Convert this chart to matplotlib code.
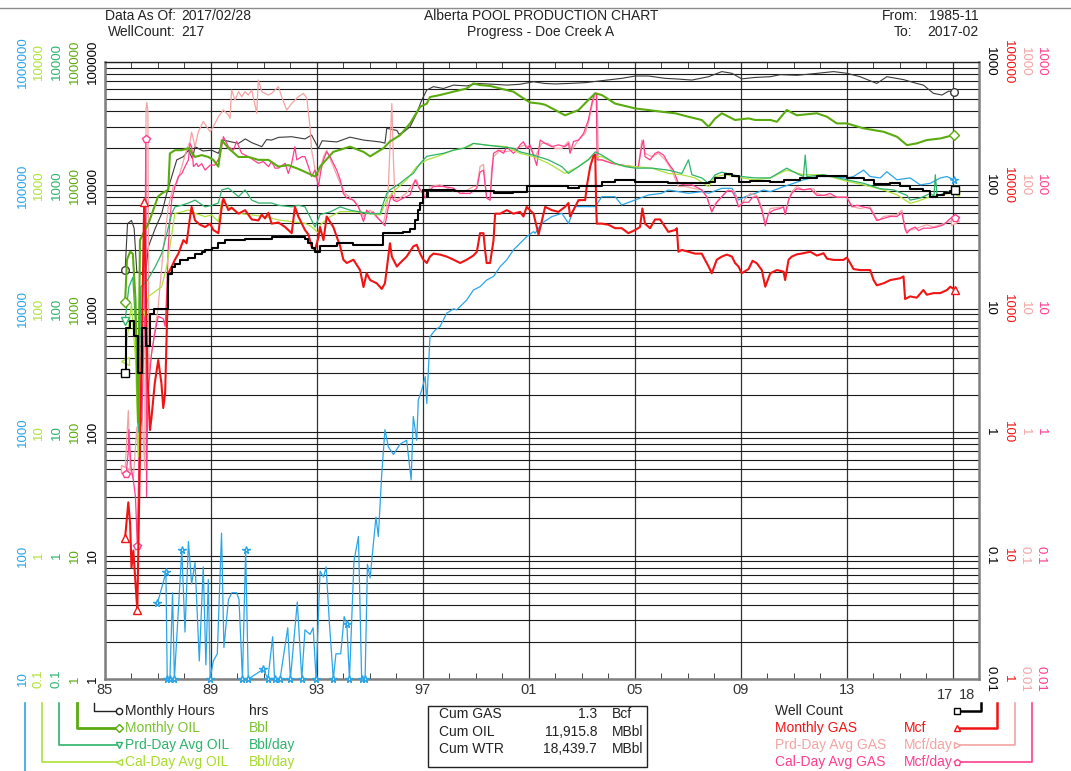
import matplotlib
matplotlib.use("Agg")
import matplotlib.pyplot as plt
import matplotlib.transforms as mtransforms
from matplotlib.patches import Rectangle
from matplotlib.ticker import FixedLocator, LogLocator, NullFormatter
import numpy as np

plt.rcParams['font.family'] = ['Liberation Sans', 'DejaVu Sans']

# === Series data: (year, value) in each series' own units ===
HOURS = [
    (1985.76, 2070), (1985.85, 4900), (1986.00, 5200), (1986.10, 4500), (1986.20, 2000),
    (1986.40, 1900), (1986.55, 2100), (1986.64, 3200), (1986.90, 4500), (1987.14, 5900),
    (1987.33, 8600), (1987.52, 11800), (1987.71, 16100), (1987.96, 17100), (1988.15, 19300),
    (1988.30, 16500), (1988.40, 20600), (1988.70, 19000), (1989.03, 19300), (1989.28, 18200),
    (1989.47, 23300), (1989.78, 22500), (1990.04, 21900), (1990.30, 23800), (1990.54, 22200),
    (1990.92, 20600), (1991.10, 23500), (1991.29, 23300), (1991.55, 24500), (1992.05, 24800),
    (1992.55, 23800), (1992.80, 25600), (1993.06, 20000), (1993.20, 23000), (1993.75, 22500),
    (1994.25, 24600), (1994.76, 23300), (1995.39, 22500), (1995.57, 22000), (1995.64, 29000),
    (1996.02, 27900), (1996.10, 26000), (1996.27, 27000), (1996.52, 29900), (1996.77, 38400),
    (1996.96, 49200), (1997.15, 59300), (1997.40, 63100), (1997.78, 61000), (1998.16, 65000),
    (1998.66, 64000), (1999.04, 67000), (1999.67, 66000), (2000.17, 65000), (2000.67, 66000),
    (2001.18, 69200), (2001.60, 67000), (2002.00, 66400), (2002.50, 67000), (2003.13, 68000),
    (2003.76, 70600), (2004.51, 73700), (2005.02, 77000), (2005.52, 77000), (2006.15, 73700),
    (2006.53, 73000), (2007.16, 71400), (2007.79, 76000), (2008.29, 83600), (2008.67, 81000),
    (2009.04, 73000), (2009.55, 75000), (2010.12, 76000), (2010.50, 79000), (2011.12, 78000),
    (2011.88, 80900), (2012.51, 83600), (2013.01, 81000), (2013.51, 76000), (2014.14, 67000),
    (2014.52, 76000), (2015.15, 72000), (2015.65, 67000), (2015.90, 65000), (2016.28, 55700),
    (2016.60, 54000), (2016.85, 58000), (2017.04, 57500),
]

OIL = [
    (1985.76, 1140), (1985.83, 2500), (1985.95, 2900), (1986.05, 2800), (1986.15, 1200),
    (1986.25, 120), (1986.32, 3600), (1986.64, 4900), (1987.00, 8100), (1987.14, 8600),
    (1987.39, 9200), (1987.45, 18200), (1987.65, 19300), (1987.90, 19300), (1988.15, 20000),
    (1988.40, 17000), (1988.65, 17600), (1988.90, 17000), (1989.09, 16100), (1989.28, 14200),
    (1989.41, 23300), (1989.66, 20000), (1990.04, 17000), (1990.42, 17000), (1990.79, 16100),
    (1991.17, 16100), (1991.55, 14200), (1991.92, 14600), (1992.30, 13600), (1992.68, 12500),
    (1992.93, 11800), (1993.06, 13300), (1993.12, 14200), (1993.62, 18700), (1994.25, 20600),
    (1994.76, 18700), (1995.01, 17200), (1995.51, 20000), (1995.76, 22700), (1996.14, 25500),
    (1996.52, 31800), (1996.90, 43400), (1997.15, 46000), (1997.27, 52000), (1997.65, 54000),
    (1998.16, 57500), (1998.66, 61000), (1998.91, 67000), (1999.16, 65000), (1999.54, 64000),
    (1999.92, 61000), (2000.42, 57500), (2000.80, 50700), (2001.05, 47000), (2001.43, 46000),
    (2001.62, 45000), (2002.00, 40800), (2002.37, 37000), (2002.88, 40800), (2003.25, 49200),
    (2003.51, 55700), (2003.76, 54000), (2004.26, 46000), (2004.76, 43400), (2005.02, 42000),
    (2005.52, 40800), (2006.02, 39500), (2006.53, 38400), (2007.03, 36000), (2007.53, 33900),
    (2007.79, 29900), (2008.04, 34900), (2008.29, 38400), (2008.79, 33900), (2009.30, 34900),
    (2009.55, 33900), (2010.12, 33900), (2010.37, 32800), (2010.74, 40800), (2011.12, 37000),
    (2011.88, 38400), (2012.26, 36000), (2012.63, 31800), (2013.01, 31800), (2013.64, 29000),
    (2014.40, 27200), (2014.90, 24800), (2015.28, 21200), (2015.65, 21900), (2016.03, 23300),
    (2016.54, 24000), (2017.04, 25600),
]

PRD_OIL = [
    (1985.76, 80), (1985.90, 150), (1986.05, 180), (1986.18, 60), (1986.27, 10), (1986.35, 150),
    (1986.60, 170), (1986.90, 220), (1987.14, 280), (1987.27, 360), (1987.52, 590), (1987.64, 670),
    (1987.90, 690), (1988.15, 720), (1988.40, 760), (1988.78, 670), (1989.03, 690), (1989.28, 720),
    (1989.41, 920), (1989.66, 950), (1989.90, 860), (1990.04, 810), (1990.29, 920), (1990.54, 760),
    (1990.80, 720), (1991.29, 720), (1991.55, 690), (1992.05, 670), (1992.30, 690), (1992.55, 670),
    (1992.68, 590), (1992.93, 460), (1993.12, 580), (1993.50, 610), (1993.88, 670), (1994.25, 630),
    (1994.63, 610), (1995.01, 590), (1995.39, 590), (1995.51, 720), (1995.64, 860), (1995.76, 920),
    (1996.14, 1040), (1996.39, 1150), (1996.64, 1250), (1996.90, 1510), (1997.15, 1720), (1997.40, 1760),
    (1997.78, 1820), (1998.16, 1930), (1998.54, 2000), (1998.91, 2190), (1999.41, 2120), (1999.92, 2060),
    (2000.42, 2000), (2000.67, 1870), (2001.18, 1760), (2001.74, 1610), (2002.25, 1420), (2002.50, 1250),
    (2002.88, 1420), (2003.25, 1610), (2003.51, 1870), (2003.76, 1760), (2004.26, 1510), (2004.64, 1420),
    (2005.02, 1380), (2005.65, 1380), (2006.27, 1330), (2006.78, 1250), (2007.03, 1610), (2007.16, 1220),
    (2007.53, 1150), (2007.79, 1040), (2008.04, 1220), (2008.29, 1280), (2008.67, 1220), (2009.04, 1180),
    (2009.55, 1150), (2010.12, 1150), (2010.74, 1380), (2011.12, 1250), (2011.37, 1180), (2011.44, 1760),
    (2011.50, 1180), (2012.13, 1220), (2013.01, 1110), (2013.64, 1040), (2014.27, 940), (2014.77, 920),
    (2015.28, 830), (2015.40, 760), (2015.78, 790), (2016.16, 860), (2016.30, 820), (2016.35, 1220),
    (2016.42, 820), (2016.66, 860), (2017.10, 920),
]

CAL_OIL = [
    (1985.76, 38), (1985.85, 60), (1986.00, 110), (1986.15, 40), (1986.27, 6.3), (1986.40, 76),
    (1986.64, 126), (1987.14, 151), (1987.33, 220), (1987.45, 319), (1987.64, 594), (1987.90, 610),
    (1988.15, 632), (1988.40, 594), (1988.78, 558), (1989.03, 576), (1989.28, 509), (1989.41, 762),
    (1989.66, 673), (1990.04, 594), (1990.54, 576), (1991.04, 558), (1991.55, 525), (1992.05, 509),
    (1992.55, 493), (1992.80, 463), (1993.06, 409), (1993.12, 478), (1993.50, 558), (1993.88, 613),
    (1994.38, 613), (1995.01, 594), (1995.39, 576), (1995.64, 762), (1996.02, 947), (1996.39, 1110),
    (1996.77, 1420), (1997.15, 1610), (1997.53, 1710), (1998.16, 1930), (1998.78, 2060), (1998.91, 2190),
    (1999.41, 2120), (2000.17, 2060), (2000.67, 1820), (2001.18, 1710), (2001.74, 1510), (2002.37, 1250),
    (2002.88, 1420), (2003.38, 1710), (2003.76, 1710), (2004.39, 1460), (2005.02, 1420), (2005.65, 1380),
    (2006.27, 1250), (2006.78, 1220), (2007.28, 1150), (2007.79, 977), (2008.04, 1180), (2008.42, 1220),
    (2009.04, 1150), (2009.55, 1110), (2010.12, 1150), (2010.74, 1330), (2011.37, 1220), (2012.13, 1220),
    (2013.01, 1080), (2013.64, 1010), (2014.40, 918), (2014.90, 840), (2015.40, 716), (2015.65, 740),
    (2016.16, 810), (2016.66, 840), (2017.10, 890),
]

WTR = [
    (1986.98, 41), (1987.30, 73), (1987.35, 10), (1987.45, 10), (1987.55, 50), (1987.62, 10),
    (1987.90, 112), (1988.02, 24), (1988.15, 130), (1988.27, 59), (1988.40, 88), (1988.56, 14),
    (1988.71, 81), (1988.81, 13), (1988.90, 64), (1988.97, 10), (1989.09, 14), (1989.24, 16),
    (1989.40, 152), (1989.49, 18), (1989.66, 44), (1989.79, 50), (1989.97, 50), (1990.06, 44),
    (1990.19, 10), (1990.31, 110), (1990.41, 10), (1990.98, 12), (1991.15, 10), (1991.33, 22),
    (1991.40, 10), (1991.61, 10), (1991.90, 26), (1992.00, 10), (1992.26, 42), (1992.43, 10),
    (1992.55, 25), (1992.74, 23), (1992.86, 26), (1992.97, 10), (1993.12, 75), (1993.25, 67),
    (1993.35, 81), (1993.47, 29), (1993.62, 10), (1993.72, 16), (1993.90, 16), (1994.03, 32),
    (1994.13, 28), (1994.23, 10), (1994.40, 90), (1994.57, 143), (1994.69, 10), (1994.82, 10),
    (1994.91, 85), (1995.01, 66), (1995.13, 123), (1995.23, 205), (1995.32, 143), (1995.45, 460),
    (1995.57, 1050), (1995.70, 760), (1995.89, 660), (1996.14, 800), (1996.39, 860), (1996.56, 410),
    (1996.64, 1340), (1996.77, 860), (1996.83, 1820), (1996.96, 2200), (1997.09, 2820), (1997.15, 1710),
    (1997.27, 5940), (1997.46, 6700), (1997.65, 7180), (1997.90, 9200), (1998.16, 10000), (1998.28, 9800),
    (1998.66, 11800), (1998.91, 14200), (1999.16, 15100), (1999.41, 17100), (1999.67, 18300), (1999.92, 22000),
    (2000.17, 24900), (2000.42, 30000), (2000.67, 33900), (2000.92, 38400), (2001.18, 42200), (2001.24, 40900),
    (2001.49, 49300), (2001.87, 55800), (2002.25, 59400), (2002.50, 49300), (2002.75, 67300), (2003.13, 67300),
    (2003.51, 67300), (2003.76, 81000), (2004.26, 81000), (2004.51, 69400), (2005.02, 76200), (2005.52, 83600),
    (2006.02, 86300), (2006.27, 91800), (2006.65, 89000), (2007.03, 86300), (2007.53, 89000), (2007.79, 86300),
    (2008.29, 94700), (2008.67, 94700), (2008.92, 76200), (2009.17, 81000), (2009.55, 86300), (2009.86, 91800),
    (2010.12, 89000), (2010.62, 97700), (2011.00, 104000), (2011.37, 111000), (2011.88, 118000), (2012.38, 118000),
    (2013.01, 115000), (2013.26, 118000), (2013.64, 133000), (2013.89, 118000), (2014.27, 115000), (2014.52, 129000),
    (2014.90, 111000), (2015.40, 115000), (2015.78, 101000), (2016.16, 104000), (2016.54, 115000), (2016.79, 118000),
    (2017.04, 111000),
]
WTR_STARS = [1987.30, 1987.90, 1990.31, 1994.13]

WELLS = [
    (1985.76, 3), (1985.78, 7), (1985.95, 8), (1986.10, 6), (1986.25, 3), (1986.40, 7),
    (1986.55, 5), (1986.70, 9), (1986.85, 10), (1987.39, 19), (1987.52, 22), (1987.64, 23),
    (1987.85, 25), (1988.15, 26), (1988.40, 28), (1988.65, 29), (1988.78, 30), (1989.03, 31),
    (1989.28, 34), (1989.53, 36), (1990.29, 37), (1991.29, 38), (1992.55, 37), (1992.68, 34),
    (1992.80, 31), (1992.93, 29), (1993.12, 32), (1993.75, 34), (1994.38, 33), (1995.51, 41),
    (1996.27, 42), (1996.52, 44), (1996.70, 52), (1996.83, 63), (1996.90, 72), (1997.02, 92),
    (1997.15, 81), (1997.21, 92), (1998.16, 90), (1999.67, 86), (2000.42, 88), (2000.92, 98),
    (2002.50, 95), (2002.88, 98), (2003.76, 106), (2004.26, 110), (2005.02, 106), (2006.27, 104),
    (2007.79, 106), (2008.04, 115), (2008.42, 123), (2008.67, 119), (2008.92, 106), (2009.36, 108),
    (2010.12, 106), (2010.62, 110), (2011.25, 115), (2011.88, 119), (2013.01, 115), (2013.64, 110),
    (2014.02, 102), (2014.65, 104), (2015.00, 98), (2015.40, 94), (2015.90, 90), (2016.16, 81),
    (2016.40, 84), (2016.66, 86), (2016.92, 90), (2017.10, 92),
]

GAS = [
    (1985.76, 14), (1985.88, 27), (1985.95, 18), (1986.00, 8), (1986.07, 11), (1986.15, 6), (1986.22, 3.6),
    (1986.48, 7400), (1986.60, 300), (1986.70, 104), (1986.76, 134), (1986.88, 250), (1987.01, 384),
    (1987.13, 250), (1987.20, 157), (1987.27, 207), (1987.39, 1940), (1987.52, 2200), (1987.64, 2500),
    (1987.77, 2800), (1987.96, 3600), (1988.08, 3400), (1988.21, 5500), (1988.27, 6700), (1988.40, 5200),
    (1988.59, 4800), (1988.78, 4600), (1988.97, 4900), (1989.09, 4350), (1989.28, 4100), (1989.41, 6700),
    (1989.47, 7800), (1989.66, 6300), (1989.78, 6600), (1990.04, 5900), (1990.29, 6300), (1990.54, 5300),
    (1990.79, 5200), (1990.92, 5800), (1991.04, 5400), (1991.17, 6000), (1991.29, 4900), (1991.55, 5000),
    (1991.80, 4600), (1992.05, 4100), (1992.17, 6700), (1992.30, 5600), (1992.55, 4350), (1992.68, 4000),
    (1992.80, 3200), (1992.93, 3000), (1993.06, 3800), (1993.12, 4600), (1993.25, 3600), (1993.37, 5600),
    (1993.62, 4600), (1993.88, 3200), (1994.00, 2500), (1994.13, 2350), (1994.38, 2500), (1994.63, 2060),
    (1994.76, 1500), (1994.88, 1940), (1995.01, 1710), (1995.26, 1610), (1995.45, 1450), (1995.57, 1610),
    (1995.76, 3400), (1995.83, 2650), (1995.89, 2500), (1996.02, 2200), (1996.14, 2350), (1996.39, 2650),
    (1996.64, 3200), (1996.77, 3300), (1996.90, 2800), (1997.02, 2500), (1997.15, 2350), (1997.27, 2650),
    (1997.40, 2800), (1997.65, 2750), (1997.90, 2650), (1998.16, 2500), (1998.41, 2350), (1998.66, 2500),
    (1998.91, 2700), (1999.04, 2900), (1999.16, 4100), (1999.29, 4100), (1999.35, 3000), (1999.41, 2350),
    (1999.54, 2350), (1999.67, 3600), (1999.73, 5900), (1999.92, 5900), (2000.17, 6300), (2000.42, 5900),
    (2000.67, 6100), (2000.80, 5600), (2000.92, 6700), (2001.18, 5900), (2001.30, 4600), (2001.37, 4000),
    (2001.62, 6700), (2001.87, 6300), (2002.12, 6100), (2002.37, 6700), (2002.50, 7200), (2002.56, 5600),
    (2002.75, 6700), (2002.88, 7600), (2003.13, 7600), (2003.19, 9800), (2003.32, 14200), (2003.44, 17200),
    (2003.51, 17800), (2003.55, 6300), (2003.57, 4900), (2003.76, 4900), (2004.01, 4800), (2004.26, 4500),
    (2004.51, 4500), (2004.76, 4100), (2005.02, 4350), (2005.20, 4600), (2005.29, 6500), (2005.39, 4900),
    (2005.58, 4500), (2005.77, 5300), (2005.96, 5300), (2006.09, 4800), (2006.27, 4200), (2006.53, 4350),
    (2006.59, 4500), (2006.65, 2900), (2006.78, 3000), (2007.03, 2900), (2007.28, 2800), (2007.53, 2800),
    (2007.79, 2200), (2007.91, 1940), (2008.10, 2500), (2008.29, 2650), (2008.48, 2750), (2008.67, 2650),
    (2008.79, 2350), (2008.92, 2200), (2009.04, 1940), (2009.30, 2100), (2009.45, 2450), (2009.61, 2340),
    (2009.80, 2060), (2009.93, 1510), (2010.12, 1940), (2010.37, 2060), (2010.62, 2000), (2010.68, 1710),
    (2010.81, 2500), (2010.93, 2650), (2011.12, 2760), (2011.37, 2820), (2011.63, 2900), (2011.88, 2700),
    (2012.13, 2820), (2012.26, 2550), (2012.51, 2490), (2012.88, 2490), (2013.01, 2600), (2013.14, 2340),
    (2013.26, 2100), (2013.51, 2060), (2013.89, 2060), (2014.02, 1710), (2014.14, 1550), (2014.40, 1610),
    (2014.65, 1710), (2015.03, 1770), (2015.15, 1830), (2015.21, 1200), (2015.40, 1260), (2015.65, 1230),
    (2015.90, 1420), (2016.03, 1300), (2016.28, 1340), (2016.54, 1340), (2016.79, 1420), (2016.92, 1510),
    (2017.10, 1420),
]

PRD_GAS = [
    (1985.76, 0.5), (1985.88, 1.5), (1985.95, 0.5), (1986.07, 0.42), (1986.20, 1.1), (1986.30, 0.45),
    (1986.36, 2.2), (1986.50, 0.5), (1986.55, 420), (1986.58, 470), (1986.62, 400), (1986.66, 3),
    (1986.80, 5), (1987.00, 10), (1987.20, 30), (1987.39, 67), (1987.58, 98), (1987.71, 104),
    (1987.90, 142), (1988.08, 193), (1988.21, 226), (1988.27, 270), (1988.40, 206), (1988.52, 270),
    (1988.71, 330), (1988.84, 299), (1988.97, 272), (1989.09, 299), (1989.28, 360), (1989.47, 408),
    (1989.66, 372), (1989.72, 349), (1989.78, 593), (1989.91, 492), (1990.04, 575), (1990.16, 523),
    (1990.29, 575), (1990.41, 540), (1990.54, 593), (1990.73, 384), (1990.79, 714), (1990.92, 575),
    (1991.17, 540), (1991.29, 557), (1991.55, 631), (1991.67, 523), (1991.86, 408), (1992.05, 462),
    (1992.30, 523), (1992.49, 557), (1992.62, 508), (1992.74, 299), (1992.80, 193), (1992.87, 161),
    (1992.99, 111), (1993.12, 133), (1993.25, 171), (1993.37, 193), (1993.62, 142), (1993.88, 104),
    (1994.07, 86), (1994.25, 80), (1994.50, 71), (1994.76, 56), (1995.01, 63), (1995.26, 55),
    (1995.51, 49), (1995.64, 67), (1995.70, 98), (1995.76, 206), (1995.83, 460), (1995.89, 161),
    (1995.95, 76), (1996.14, 79), (1996.39, 87), (1996.64, 104), (1996.77, 111), (1996.90, 89),
    (1997.02, 89), (1997.15, 81), (1997.27, 98), (1997.65, 101), (1998.16, 90), (1998.54, 88),
    (1998.91, 98), (1999.04, 98), (1999.16, 142), (1999.29, 148), (1999.41, 79), (1999.54, 76),
    (1999.60, 137), (1999.67, 171), (1999.92, 193), (2000.17, 188), (2000.42, 193), (2000.67, 206),
    (2000.86, 213), (2001.05, 199), (2001.24, 171), (2001.49, 219), (2001.74, 219), (2002.00, 199),
    (2002.25, 199), (2002.50, 227), (2002.62, 193), (2002.88, 233), (2003.13, 264), (2003.25, 318),
    (2003.38, 434), (2003.51, 557), (2003.58, 557), (2003.63, 161), (2003.76, 161), (2004.14, 151),
    (2004.51, 146), (2004.89, 142), (2005.14, 142), (2005.27, 233), (2005.39, 182), (2005.65, 171),
    (2005.90, 182), (2006.15, 161), (2006.40, 133), (2006.65, 98), (2006.90, 98), (2007.28, 94),
    (2007.53, 92), (2007.72, 81), (2007.85, 67), (2007.91, 61), (2008.04, 71), (2008.29, 81),
    (2008.54, 92), (2008.79, 89), (2008.92, 67), (2009.04, 71), (2009.17, 78), (2009.36, 86),
    (2009.61, 83), (2009.80, 67), (2009.93, 49), (2010.12, 65), (2010.37, 66), (2010.62, 67),
    (2010.68, 58), (2010.81, 76), (2010.93, 89), (2011.12, 98), (2011.37, 92), (2011.75, 94),
    (2011.88, 86), (2012.13, 83), (2012.51, 81), (2013.01, 81), (2013.14, 72), (2013.26, 67),
    (2013.51, 65), (2013.89, 67), (2014.08, 56), (2014.21, 52), (2014.40, 56), (2014.90, 58),
    (2015.09, 63), (2015.21, 46), (2015.28, 43), (2015.53, 44), (2015.78, 46), (2016.03, 48),
    (2016.28, 46), (2016.66, 49), (2016.92, 51), (2017.10, 51),
]

CAL_GAS = [
    (1985.80, 0.46), (1985.88, 0.7), (1985.90, 1.05), (1985.98, 0.53), (1986.07, 0.41), (1986.15, 0.3),
    (1986.22, 0.12), (1986.30, 1.0), (1986.39, 1.28), (1986.50, 10), (1986.54, 236), (1986.57, 0.3),
    (1986.62, 2), (1986.76, 4.4), (1986.88, 6.3), (1987.01, 8.7), (1987.20, 8.3), (1987.27, 7.2),
    (1987.33, 13.4), (1987.39, 32), (1987.45, 52), (1987.52, 76), (1987.64, 98), (1987.77, 118),
    (1987.90, 125), (1988.02, 142), (1988.15, 161), (1988.21, 219), (1988.27, 206), (1988.34, 142),
    (1988.46, 151), (1988.52, 142), (1988.65, 150), (1988.78, 133), (1988.97, 146), (1989.15, 146),
    (1989.34, 171), (1989.47, 248), (1989.66, 206), (1989.85, 193), (1989.97, 227), (1990.16, 182),
    (1990.41, 171), (1990.60, 161), (1990.79, 151), (1990.98, 156), (1991.17, 142), (1991.29, 156),
    (1991.42, 138), (1991.55, 138), (1991.80, 151), (1991.92, 125), (1992.05, 151), (1992.17, 206),
    (1992.24, 161), (1992.43, 171), (1992.55, 171), (1992.68, 142), (1992.80, 118), (1992.93, 133),
    (1993.06, 98), (1993.15, 131), (1993.25, 161), (1993.37, 187), (1993.50, 171), (1993.62, 151),
    (1993.75, 133), (1993.88, 111), (1994.00, 86), (1994.13, 79), (1994.38, 76), (1994.57, 67),
    (1994.76, 51), (1994.88, 63), (1995.01, 59), (1995.13, 61), (1995.26, 56), (1995.39, 52),
    (1995.57, 47), (1995.70, 67), (1995.76, 76), (1995.83, 86), (1995.89, 76), (1996.02, 74),
    (1996.27, 79), (1996.52, 84), (1996.71, 111), (1996.83, 98), (1996.96, 89), (1997.09, 79),
    (1997.21, 89), (1997.40, 98), (1997.78, 98), (1998.16, 95), (1998.41, 86), (1998.78, 86),
    (1999.04, 95), (1999.16, 128), (1999.29, 133), (1999.41, 79), (1999.54, 76), (1999.60, 118),
    (1999.67, 182), (1999.86, 193), (2000.05, 182), (2000.17, 206), (2000.42, 182), (2000.55, 193),
    (2000.67, 213), (2000.80, 226), (2000.92, 199), (2001.05, 213), (2001.18, 176), (2001.30, 145),
    (2001.43, 233), (2001.62, 219), (2001.87, 206), (2002.12, 213), (2002.37, 206), (2002.50, 219),
    (2002.56, 182), (2002.69, 227), (2002.88, 233), (2003.07, 264), (2003.25, 339), (2003.38, 462),
    (2003.48, 557), (2003.55, 557), (2003.58, 161), (2003.76, 161), (2004.14, 151), (2004.51, 146),
    (2004.89, 142), (2005.14, 142), (2005.27, 212), (2005.33, 233), (2005.39, 171), (2005.58, 161),
    (2005.77, 182), (2005.90, 187), (2006.09, 176), (2006.27, 151), (2006.46, 133), (2006.65, 104),
    (2006.90, 101), (2007.16, 101), (2007.41, 95), (2007.53, 92), (2007.72, 81), (2007.85, 67),
    (2007.91, 61), (2008.10, 73), (2008.29, 81), (2008.48, 90), (2008.67, 90), (2008.79, 81),
    (2008.92, 67), (2009.11, 73), (2009.30, 73), (2009.45, 80), (2009.61, 81), (2009.80, 63),
    (2009.93, 47), (2010.05, 59), (2010.24, 63), (2010.49, 65), (2010.62, 67), (2010.68, 58),
    (2010.81, 76), (2010.93, 86), (2011.12, 94), (2011.37, 92), (2011.63, 94), (2011.88, 83),
    (2012.13, 83), (2012.38, 86), (2012.63, 80), (2013.01, 80), (2013.20, 67), (2013.39, 69),
    (2013.64, 67), (2013.89, 65), (2014.14, 52), (2014.40, 54), (2014.65, 56), (2014.90, 56),
    (2015.09, 60), (2015.21, 44), (2015.28, 41), (2015.40, 44), (2015.59, 46), (2015.72, 43),
    (2015.90, 45), (2016.16, 45), (2016.41, 46), (2016.66, 48), (2016.92, 54), (2017.10, 54),
]

YEAR_TICKS = [1985, 1989, 1993, 1997, 2001, 2005, 2009, 2013]
YEAR_LABELS = ['85', '89', '93', '97', '01', '05', '09', '13']

CUM_NAMES = ['Cum GAS', 'Cum OIL', 'Cum WTR']
CUM_VALUES = ['1.3', '11,915.8', '18,439.7']
CUM_UNITS = ['Bcf', 'MBbl', 'MBbl']

# === Colours ===
C_BLUE = '#2aa5e8'
C_YG = '#aee23a'
C_TEAL = '#2db36b'
C_GREEN = '#5aab0f'
C_RED = '#f01414'
C_LPINK = '#f4a3a3'
C_PINK = '#ff3d8f'

W, H = 1071, 771


def unzip(pairs):
    t, v = zip(*pairs)
    return np.array(t), np.array(v, dtype=float)


fig = plt.figure(figsize=(W / 100, H / 100), dpi=100)
rect = [105 / W, 1 - 679 / H, (979 - 105) / W, (679 - 62) / H]

# === Main axis (Monthly Hours scale) with grid ===
ax = fig.add_axes(rect)
ax.set_xlim(1985, 2018)
ax.set_yscale('log')
ax.set_ylim(1, 1e5)
ax.yaxis.set_major_locator(LogLocator(base=10))
ax.yaxis.set_minor_locator(LogLocator(base=10, subs=range(2, 10)))
ax.yaxis.set_minor_formatter(NullFormatter())
ax.tick_params(axis='y', which='both', length=0, labelleft=False)
ax.grid(axis='y', which='both', color='#1a1a1a', lw=0.8)

ax.xaxis.set_major_locator(FixedLocator(YEAR_TICKS + [2017]))
ax.set_xticklabels(YEAR_LABELS + [''])
ax.xaxis.set_minor_locator(FixedLocator(range(1985, 2019)))
ax.tick_params(axis='x', which='major', length=0, labelsize=10.5, labelcolor='#333333', pad=3)
ax.tick_params(axis='x', which='minor', direction='in', length=4, top=True, bottom=True, color='#222222')
ax.grid(axis='x', which='major', color='#333333', lw=0.9)
ax.set_axisbelow(True)
for side in ('left', 'right', 'bottom'):
    ax.spines[side].set_color('#7f7f7f')
    ax.spines[side].set_linewidth(1.8)
ax.spines['top'].set_color('#222222')
ax.spines['top'].set_linewidth(1.0)

xlab = mtransforms.blended_transform_factory(ax.transData, ax.transAxes)
ax.text(2016.72, -0.014, '17', transform=xlab, ha='center', va='top', fontsize=10.5, color='#333333')
ax.text(2017.55, -0.014, '18', transform=xlab, ha='center', va='top', fontsize=10.5, color='#333333')


def series_axis(name, lo, hi):
    a = fig.add_axes(rect, label=name, sharex=ax)
    a.set_yscale('log')
    a.set_ylim(lo, hi)
    a.set_axis_off()
    a.patch.set_visible(False)
    return a


def draw(a, pairs, color, lw, marker, extra_marks=None, steps=False, clip=True):
    t, v = unzip(pairs)
    marks = [0, len(t) - 1]
    if extra_marks is not None:
        marks += list(extra_marks(t, v))
    a.plot(t, v, color=color, lw=lw, marker=marker, markevery=sorted(set(marks)),
           ms=5.5, mfc='white', mec=color, mew=1.0,
           drawstyle='steps-post' if steps else 'default', clip_on=clip)


ax_wtr = series_axis('wtr', 10, 1e6)
ax_pgas = series_axis('prdgas', 0.01, 1e3)
ax_cgas = series_axis('calgas', 0.01, 1e3)
ax_coil = series_axis('caloil', 0.1, 1e4)
ax_poil = series_axis('prdoil', 0.1, 1e4)
ax_oil = series_axis('oil', 1, 1e5)
ax_gas = series_axis('gas', 1, 1e5)
ax_wc = series_axis('wells', 0.01, 1e3)

draw(ax_wtr, WTR, C_BLUE, 0.9, '*',
     extra_marks=lambda t, v: list(np.where(v <= 12)[0]) + list(np.where(np.isin(t, WTR_STARS))[0]),
     clip=False)
draw(ax_pgas, PRD_GAS, C_LPINK, 0.9, '>')
draw(ax_cgas, CAL_GAS, C_PINK, 0.9, 'p',
     extra_marks=lambda t, v: [int(np.argmin(v[:8])), int(np.argmax(v[:12]))])
draw(ax_coil, CAL_OIL, C_YG, 0.9, '<')
draw(ax_poil, PRD_OIL, C_TEAL, 0.9, 'v')
draw(ax, HOURS, '#3a3a3a', 0.8, 'o')
draw(ax_oil, OIL, C_GREEN, 1.5, 'D')
draw(ax_gas, GAS, C_RED, 1.5, '^',
     extra_marks=lambda t, v: [int(np.argmin(v[:8])), int(np.argmax(v[:10]))])
draw(ax_wc, WELLS, 'black', 1.5, 's', steps=True)

# === Colour-coded axis labels on both sides ===
LEFT_COLS = [
    (ax_wtr, 23, C_BLUE), (ax_coil, 39, C_YG), (ax_poil, 57, C_TEAL),
    (ax_oil, 75, C_GREEN), (ax, 93, 'black'),
]
RIGHT_COLS = [
    (ax_wc, 990, 'black'), (ax_gas, 1008, C_RED), (ax_pgas, 1025, C_LPINK), (ax_cgas, 1041, C_PINK),
]


def fmt(v):
    return str(int(round(v))) if v >= 1 else ('%g' % v)


for cols, rot in ((LEFT_COLS, 90), (RIGHT_COLS, 270)):
    for a, px, col in cols:
        lo, hi = a.get_ylim()
        tr = mtransforms.blended_transform_factory(fig.transFigure, a.transData)
        for k in range(int(round(np.log10(lo))), int(round(np.log10(hi))) + 1):
            fig.text(px / W, 10.0 ** k, fmt(10.0 ** k), transform=tr, rotation=rot,
                     ha='center', va='center', fontsize=9.5, color=col)

# === Overlay in pixel coordinates: header, legend, cum box ===
ov = fig.add_axes([0, 0, 1, 1], label='overlay')
ov.set_xlim(0, W)
ov.set_ylim(H, 0)
ov.set_axis_off()
ov.patch.set_visible(False)

ov.plot([0, W], [8, 8], color='#8c8c8c', lw=1)
hdr = dict(fontsize=10, color='#222222', va='center')
ov.text(176, 16, 'Data As Of:', ha='right', **hdr)
ov.text(181, 16, '2017/02/28', ha='left', **hdr)
ov.text(176, 32, 'WellCount:', ha='right', **hdr)
ov.text(181, 32, '217', ha='left', **hdr)
ov.text(541, 16, 'Alberta POOL PRODUCTION CHART', ha='center', **hdr)
ov.text(541, 32, 'Progress - Doe Creek A', ha='center', **hdr)
ov.text(918, 16, 'From:', ha='right', **hdr)
ov.text(979, 16, '1985-11', ha='right', **hdr)
ov.text(912, 32, 'To:', ha='right', **hdr)
ov.text(979, 32, '2017-02', ha='right', **hdr)

# left legend brackets
rows = [711, 728, 745, 762]
ov.plot([25, 25], [703, H], color=C_BLUE, lw=1.2)
LEFT_LEG = [
    (94, rows[0], '#222222', 1.0, 'o', 'Monthly Hours', 'hrs', '#222222'),
    (77, rows[1], C_GREEN, 2.0, 'D', 'Monthly OIL', 'Bbl', '#79c231'),
    (59, rows[2], C_TEAL, 1.2, 'v', 'Prd-Day Avg OIL', 'Bbl/day', C_TEAL),
    (42, rows[3], C_YG, 1.2, '<', 'Cal-Day Avg OIL', 'Bbl/day', '#a8dc2c'),
]
for x0, y0, col, lw, mk, name, unit, tcol in LEFT_LEG:
    ov.plot([x0, x0, 117], [703, y0, y0], color=col, lw=lw)
    ov.plot([119], [y0], marker=mk, ms=4.5, mfc='white', mec=col, mew=1.0)
    ov.text(125, y0, name, ha='left', va='center', fontsize=10, color=tcol)
    ov.text(249, y0, unit, ha='left', va='center', fontsize=10, color=tcol)

RIGHT_LEG = [
    (981, rows[0], 'black', 1.8, 's', 'Well Count', '', '#222222'),
    (997, rows[1], C_RED, 1.8, '^', 'Monthly GAS', 'Mcf', C_RED),
    (1015, rows[2], C_LPINK, 1.2, '>', 'Prd-Day Avg GAS', 'Mcf/day', C_LPINK),
    (1032, rows[3], C_PINK, 1.2, 'p', 'Cal-Day Avg GAS', 'Mcf/day', C_PINK),
]
for x0, y0, col, lw, mk, name, unit, tcol in RIGHT_LEG:
    ov.plot([958, x0, x0], [y0, y0, 703], color=col, lw=lw)
    ov.plot([957], [y0], marker=mk, ms=5, mfc='white', mec=col, mew=1.0)
    ov.text(775, y0, name, ha='left', va='center', fontsize=10, color=tcol)
    if unit:
        ov.text(904, y0, unit, ha='left', va='center', fontsize=10, color=tcol)

# cumulative box
ov.add_patch(Rectangle((428, 706), 219, 61, fill=False, edgecolor='#222222', lw=1.0))
for i, (nm, val, un) in enumerate(zip(CUM_NAMES, CUM_VALUES, CUM_UNITS)):
    y0 = 714 + i * 17.5
    ov.text(439, y0, nm, ha='left', va='center', fontsize=10, color='#222222')
    ov.text(597, y0, val, ha='right', va='center', fontsize=10, color='#222222')
    ov.text(612, y0, un, ha='left', va='center', fontsize=10, color='#222222')

fig.savefig('out.png', dpi=100)
